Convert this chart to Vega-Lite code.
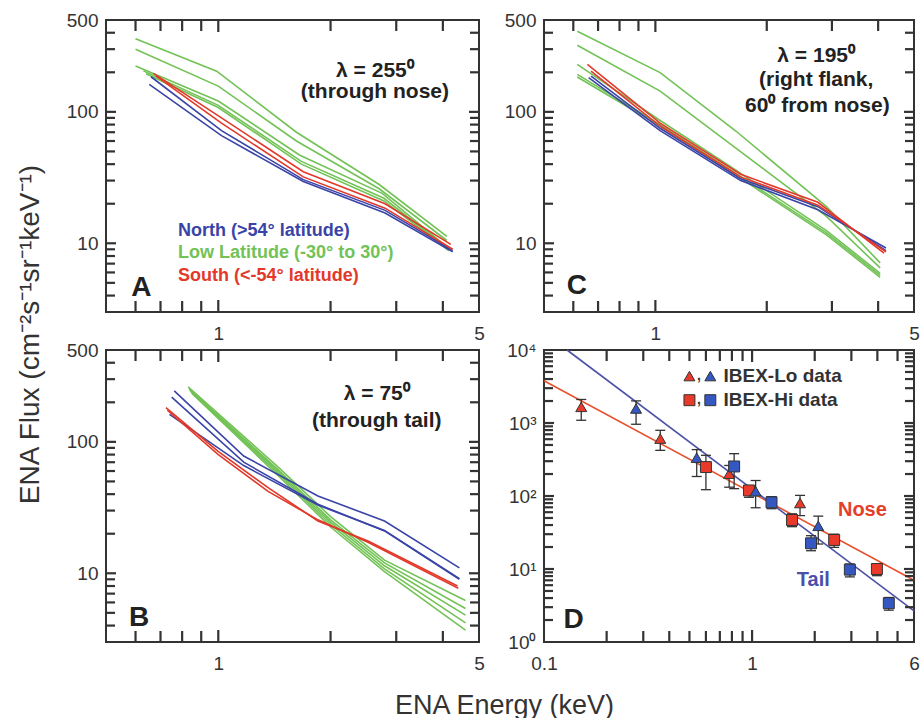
{
  "$schema": "https://vega.github.io/schema/vega-lite/v6.json",
  "background": "white",
  "padding": {"left": 15, "top": 10, "right": 0, "bottom": 0},
  "bounds": "flush",
  "columns": 2,
  "spacing": {"row": 38, "column": 65},
  "resolve": {"scale": {"color": "independent", "fill": "independent", "shape": "independent"}},
  "config": {
    "font": "Liberation Sans",
    "view": {"stroke": "#333", "strokeWidth": 2},
    "axis": {"domain": false, "grid": false, "ticks": false, "labelFlush": false, "labelOverlap": false, "labelFont": "Liberation Sans", "labelFontSize": 19, "labelColor": "#333", "titleFont": "Liberation Sans", "titleFontWeight": "normal", "titleColor": "#333"},
    "tick": {"thickness": 2.2, "color": "#333", "opacity": 1},
    "text": {"font": "Liberation Sans"}
  },
  "datasets": {
    "lines": [
      {"p":"A","id":"A-G1","g":"Low","e":0.60,"f":360},{"p":"A","id":"A-G1","g":"Low","e":0.99,"f":204},{"p":"A","id":"A-G1","g":"Low","e":1.62,"f":70},{"p":"A","id":"A-G1","g":"Low","e":2.7,"f":28},{"p":"A","id":"A-G1","g":"Low","e":4.1,"f":11.3},
      {"p":"A","id":"A-G2","g":"Low","e":0.60,"f":299},{"p":"A","id":"A-G2","g":"Low","e":1.00,"f":157},{"p":"A","id":"A-G2","g":"Low","e":1.62,"f":60},{"p":"A","id":"A-G2","g":"Low","e":2.7,"f":26},{"p":"A","id":"A-G2","g":"Low","e":4.1,"f":10.5},
      {"p":"A","id":"A-G3","g":"Low","e":0.60,"f":223},{"p":"A","id":"A-G3","g":"Low","e":1.00,"f":121},{"p":"A","id":"A-G3","g":"Low","e":1.65,"f":47},{"p":"A","id":"A-G3","g":"Low","e":2.75,"f":24},{"p":"A","id":"A-G3","g":"Low","e":4.1,"f":9.4},
      {"p":"A","id":"A-G4","g":"Low","e":0.63,"f":205},{"p":"A","id":"A-G4","g":"Low","e":1.00,"f":112},{"p":"A","id":"A-G4","g":"Low","e":1.67,"f":42},{"p":"A","id":"A-G4","g":"Low","e":2.78,"f":22},{"p":"A","id":"A-G4","g":"Low","e":4.15,"f":9.0},
      {"p":"A","id":"A-G5","g":"Low","e":0.64,"f":195},{"p":"A","id":"A-G5","g":"Low","e":1.00,"f":108},{"p":"A","id":"A-G5","g":"Low","e":1.67,"f":40},{"p":"A","id":"A-G5","g":"Low","e":2.78,"f":21},{"p":"A","id":"A-G5","g":"Low","e":4.15,"f":8.8},
      {"p":"A","id":"A-N1","g":"North","e":0.653,"f":162},{"p":"A","id":"A-N1","g":"North","e":1.02,"f":66},{"p":"A","id":"A-N1","g":"North","e":1.69,"f":29.5},{"p":"A","id":"A-N1","g":"North","e":2.8,"f":17},{"p":"A","id":"A-N1","g":"North","e":4.25,"f":8.6},
      {"p":"A","id":"A-N2","g":"North","e":0.66,"f":185},{"p":"A","id":"A-N2","g":"North","e":1.02,"f":72},{"p":"A","id":"A-N2","g":"North","e":1.69,"f":30.5},{"p":"A","id":"A-N2","g":"North","e":2.8,"f":17.8},{"p":"A","id":"A-N2","g":"North","e":4.25,"f":8.8},
      {"p":"A","id":"A-S1","g":"South","e":0.67,"f":196},{"p":"A","id":"A-S1","g":"South","e":1.02,"f":90},{"p":"A","id":"A-S1","g":"South","e":1.69,"f":35},{"p":"A","id":"A-S1","g":"South","e":2.8,"f":20},{"p":"A","id":"A-S1","g":"South","e":4.2,"f":9.8},
      {"p":"A","id":"A-S2","g":"South","e":0.68,"f":188},{"p":"A","id":"A-S2","g":"South","e":1.02,"f":82},{"p":"A","id":"A-S2","g":"South","e":1.69,"f":32},{"p":"A","id":"A-S2","g":"South","e":2.8,"f":18.5},{"p":"A","id":"A-S2","g":"South","e":4.25,"f":9.0},

      {"p":"C","id":"C-G1","g":"Low","e":0.615,"f":410},{"p":"C","id":"C-G1","g":"Low","e":1.03,"f":199},{"p":"C","id":"C-G1","g":"Low","e":1.65,"f":71.5},{"p":"C","id":"C-G1","g":"Low","e":2.9,"f":19},{"p":"C","id":"C-G1","g":"Low","e":4.05,"f":7.1},
      {"p":"C","id":"C-G2","g":"Low","e":0.615,"f":321},{"p":"C","id":"C-G2","g":"Low","e":1.03,"f":144},{"p":"C","id":"C-G2","g":"Low","e":1.65,"f":53},{"p":"C","id":"C-G2","g":"Low","e":2.9,"f":16},{"p":"C","id":"C-G2","g":"Low","e":4.05,"f":6.5},
      {"p":"C","id":"C-G3","g":"Low","e":0.615,"f":230},{"p":"C","id":"C-G3","g":"Low","e":1.03,"f":86},{"p":"C","id":"C-G3","g":"Low","e":1.65,"f":36},{"p":"C","id":"C-G3","g":"Low","e":2.9,"f":12.5},{"p":"C","id":"C-G3","g":"Low","e":4.05,"f":5.9},
      {"p":"C","id":"C-G4","g":"Low","e":0.615,"f":193},{"p":"C","id":"C-G4","g":"Low","e":1.03,"f":80},{"p":"C","id":"C-G4","g":"Low","e":1.65,"f":34},{"p":"C","id":"C-G4","g":"Low","e":2.9,"f":12},{"p":"C","id":"C-G4","g":"Low","e":4.05,"f":5.7},
      {"p":"C","id":"C-G5","g":"Low","e":0.615,"f":184},{"p":"C","id":"C-G5","g":"Low","e":1.03,"f":78},{"p":"C","id":"C-G5","g":"Low","e":1.65,"f":33},{"p":"C","id":"C-G5","g":"Low","e":2.9,"f":11.6},{"p":"C","id":"C-G5","g":"Low","e":4.05,"f":5.5},
      {"p":"C","id":"C-N1","g":"North","e":0.66,"f":182},{"p":"C","id":"C-N1","g":"North","e":1.03,"f":72},{"p":"C","id":"C-N1","g":"North","e":1.7,"f":30},{"p":"C","id":"C-N1","g":"North","e":2.75,"f":18},{"p":"C","id":"C-N1","g":"North","e":4.2,"f":9.2},
      {"p":"C","id":"C-N2","g":"North","e":0.67,"f":187},{"p":"C","id":"C-N2","g":"North","e":1.03,"f":75},{"p":"C","id":"C-N2","g":"North","e":1.7,"f":31},{"p":"C","id":"C-N2","g":"North","e":2.75,"f":19},{"p":"C","id":"C-N2","g":"North","e":4.2,"f":8.8},
      {"p":"C","id":"C-S1","g":"South","e":0.655,"f":230},{"p":"C","id":"C-S1","g":"South","e":1.03,"f":82},{"p":"C","id":"C-S1","g":"South","e":1.7,"f":33.5},{"p":"C","id":"C-S1","g":"South","e":2.75,"f":20.5},{"p":"C","id":"C-S1","g":"South","e":4.15,"f":8.4},
      {"p":"C","id":"C-S2","g":"South","e":0.67,"f":204},{"p":"C","id":"C-S2","g":"South","e":1.03,"f":78},{"p":"C","id":"C-S2","g":"South","e":1.7,"f":32},{"p":"C","id":"C-S2","g":"South","e":2.75,"f":19.5},{"p":"C","id":"C-S2","g":"South","e":4.2,"f":8.6},

      {"p":"B","id":"B-G1","g":"Low","e":0.83,"f":262},{"p":"B","id":"B-G1","g":"Low","e":1.45,"f":64},{"p":"B","id":"B-G1","g":"Low","e":2.0,"f":27},{"p":"B","id":"B-G1","g":"Low","e":2.79,"f":12.6},{"p":"B","id":"B-G1","g":"Low","e":4.6,"f":6.2},
      {"p":"B","id":"B-G2","g":"Low","e":0.835,"f":252},{"p":"B","id":"B-G2","g":"Low","e":1.45,"f":61},{"p":"B","id":"B-G2","g":"Low","e":2.0,"f":25.5},{"p":"B","id":"B-G2","g":"Low","e":2.79,"f":12.0},{"p":"B","id":"B-G2","g":"Low","e":4.6,"f":5.4},
      {"p":"B","id":"B-G3","g":"Low","e":0.84,"f":246},{"p":"B","id":"B-G3","g":"Low","e":1.45,"f":59},{"p":"B","id":"B-G3","g":"Low","e":2.0,"f":24.5},{"p":"B","id":"B-G3","g":"Low","e":2.79,"f":11.4},{"p":"B","id":"B-G3","g":"Low","e":4.6,"f":4.8},
      {"p":"B","id":"B-G4","g":"Low","e":0.845,"f":240},{"p":"B","id":"B-G4","g":"Low","e":1.45,"f":57},{"p":"B","id":"B-G4","g":"Low","e":2.0,"f":23.5},{"p":"B","id":"B-G4","g":"Low","e":2.79,"f":10.8},{"p":"B","id":"B-G4","g":"Low","e":4.6,"f":4.2},
      {"p":"B","id":"B-G5","g":"Low","e":0.85,"f":234},{"p":"B","id":"B-G5","g":"Low","e":1.45,"f":55},{"p":"B","id":"B-G5","g":"Low","e":2.0,"f":22.5},{"p":"B","id":"B-G5","g":"Low","e":2.79,"f":10.3},{"p":"B","id":"B-G5","g":"Low","e":4.6,"f":3.7},
      {"p":"B","id":"B-N1","g":"North","e":0.762,"f":244},{"p":"B","id":"B-N1","g":"North","e":1.17,"f":78},{"p":"B","id":"B-N1","g":"North","e":1.85,"f":38.7},{"p":"B","id":"B-N1","g":"North","e":2.79,"f":25},{"p":"B","id":"B-N1","g":"North","e":4.43,"f":11.0},
      {"p":"B","id":"B-N2","g":"North","e":0.75,"f":219},{"p":"B","id":"B-N2","g":"North","e":1.17,"f":70},{"p":"B","id":"B-N2","g":"North","e":1.85,"f":33.5},{"p":"B","id":"B-N2","g":"North","e":2.79,"f":21},{"p":"B","id":"B-N2","g":"North","e":4.43,"f":9.0},
      {"p":"B","id":"B-N3","g":"North","e":0.74,"f":162},{"p":"B","id":"B-N3","g":"North","e":1.17,"f":66},{"p":"B","id":"B-N3","g":"North","e":1.85,"f":33},{"p":"B","id":"B-N3","g":"North","e":2.79,"f":21.2},{"p":"B","id":"B-N3","g":"North","e":4.43,"f":9.1},
      {"p":"B","id":"B-S1","g":"South","e":0.724,"f":182},{"p":"B","id":"B-S1","g":"South","e":0.997,"f":85},{"p":"B","id":"B-S1","g":"South","e":1.36,"f":44.8},{"p":"B","id":"B-S1","g":"South","e":1.85,"f":25},{"p":"B","id":"B-S1","g":"South","e":2.52,"f":17.6},{"p":"B","id":"B-S1","g":"South","e":4.38,"f":8.0},
      {"p":"B","id":"B-S2","g":"South","e":0.73,"f":174},{"p":"B","id":"B-S2","g":"South","e":1.0,"f":80},{"p":"B","id":"B-S2","g":"South","e":1.36,"f":42},{"p":"B","id":"B-S2","g":"South","e":1.85,"f":25.5},{"p":"B","id":"B-S2","g":"South","e":2.52,"f":17.2},{"p":"B","id":"B-S2","g":"South","e":4.4,"f":7.7}
    ],
    "notes": [
      {"p":"A","k":"head","t":"λ = 255⁰","e":2.63,"f":204},
      {"p":"A","k":"head","t":"(through nose)","e":2.63,"f":141},
      {"p":"A","k":"panel","t":"A","e":0.584,"f":3.97},
      {"p":"A","k":"North","t":"North (>54° latitude)","e":0.78,"f":12.4},
      {"p":"A","k":"Low","t":"Low Latitude (-30° to 30°)","e":0.78,"f":8.43},
      {"p":"A","k":"South","t":"South (<-54° latitude)","e":0.78,"f":5.63},
      {"p":"C","k":"head","t":"λ = 195⁰","e":2.72,"f":266},
      {"p":"C","k":"head","t":"(right flank,","e":2.72,"f":175},
      {"p":"C","k":"head","t":"60⁰ from nose)","e":2.74,"f":111},
      {"p":"C","k":"panel","t":"C","e":0.576,"f":4.11},
      {"p":"B","k":"head","t":"λ = 75⁰","e":2.66,"f":231},
      {"p":"B","k":"head","t":"(through tail)","e":2.66,"f":144},
      {"p":"B","k":"panel","t":"B","e":0.576,"f":3.97},
      {"p":"D","k":"panel","t":"D","e":0.124,"f":1.56},
      {"p":"D","k":"Nose","t":"Nose","e":3.39,"f":65},
      {"p":"D","k":"Tail","t":"Tail","e":1.97,"f":7.1},
      {"p":"D","k":"leg","t":"IBEX-Lo data","e":0.729,"f":4390},
      {"p":"D","k":"leg","t":"IBEX-Hi data","e":0.729,"f":2054},
      {"p":"D","k":"comma","t":",","e":0.556,"f":4390},
      {"p":"D","k":"comma","t":",","e":0.556,"f":2054}
    ],
    "tkabc": [
      {"ax":"x","v":0.6,"m":"xmin"},{"ax":"x","v":0.7,"m":"xmin"},{"ax":"x","v":0.8,"m":"xmin"},{"ax":"x","v":0.9,"m":"xmin"},{"ax":"x","v":1,"m":"xmaj"},{"ax":"x","v":2,"m":"xmin"},{"ax":"x","v":3,"m":"xmin"},{"ax":"x","v":4,"m":"xmin"},
      {"ax":"y","v":4,"m":"ymin"},{"ax":"y","v":5,"m":"ymin"},{"ax":"y","v":6,"m":"ymin"},{"ax":"y","v":7,"m":"ymin"},{"ax":"y","v":8,"m":"ymin"},{"ax":"y","v":9,"m":"ymin"},{"ax":"y","v":10,"m":"ymaj"},
      {"ax":"y","v":20,"m":"ymin"},{"ax":"y","v":30,"m":"ymin"},{"ax":"y","v":40,"m":"ymin"},{"ax":"y","v":50,"m":"ymin"},{"ax":"y","v":60,"m":"ymin"},{"ax":"y","v":70,"m":"ymin"},{"ax":"y","v":80,"m":"ymin"},{"ax":"y","v":90,"m":"ymin"},{"ax":"y","v":100,"m":"ymaj"},
      {"ax":"y","v":200,"m":"ymin"},{"ax":"y","v":300,"m":"ymin"},{"ax":"y","v":400,"m":"ymin"}
    ],
    "tkd": [
      {"ax":"x","v":0.2,"m":"xmin"},{"ax":"x","v":0.3,"m":"xmin"},{"ax":"x","v":0.4,"m":"xmin"},{"ax":"x","v":0.5,"m":"xmin"},{"ax":"x","v":0.6,"m":"xmin"},{"ax":"x","v":0.7,"m":"xmin"},{"ax":"x","v":0.8,"m":"xmin"},{"ax":"x","v":0.9,"m":"xmin"},{"ax":"x","v":1,"m":"xmaj"},{"ax":"x","v":2,"m":"xmin"},{"ax":"x","v":3,"m":"xmin"},{"ax":"x","v":4,"m":"xmin"},{"ax":"x","v":5,"m":"xmin"},
      {"ax":"y","v":2,"m":"ymin"},{"ax":"y","v":3,"m":"ymin"},{"ax":"y","v":4,"m":"ymin"},{"ax":"y","v":5,"m":"ymin"},{"ax":"y","v":6,"m":"ymin"},{"ax":"y","v":7,"m":"ymin"},{"ax":"y","v":8,"m":"ymin"},{"ax":"y","v":9,"m":"ymin"},{"ax":"y","v":10,"m":"ymaj"},
      {"ax":"y","v":20,"m":"ymin"},{"ax":"y","v":30,"m":"ymin"},{"ax":"y","v":40,"m":"ymin"},{"ax":"y","v":50,"m":"ymin"},{"ax":"y","v":60,"m":"ymin"},{"ax":"y","v":70,"m":"ymin"},{"ax":"y","v":80,"m":"ymin"},{"ax":"y","v":90,"m":"ymin"},{"ax":"y","v":100,"m":"ymaj"},
      {"ax":"y","v":200,"m":"ymin"},{"ax":"y","v":300,"m":"ymin"},{"ax":"y","v":400,"m":"ymin"},{"ax":"y","v":500,"m":"ymin"},{"ax":"y","v":600,"m":"ymin"},{"ax":"y","v":700,"m":"ymin"},{"ax":"y","v":800,"m":"ymin"},{"ax":"y","v":900,"m":"ymin"},{"ax":"y","v":1000,"m":"ymaj"},
      {"ax":"y","v":2000,"m":"ymin"},{"ax":"y","v":3000,"m":"ymin"},{"ax":"y","v":4000,"m":"ymin"},{"ax":"y","v":5000,"m":"ymin"},{"ax":"y","v":6000,"m":"ymin"},{"ax":"y","v":7000,"m":"ymin"},{"ax":"y","v":8000,"m":"ymin"},{"ax":"y","v":9000,"m":"ymin"}
    ],
    "ibex": [
      {"inst":"Lo","reg":"Nose","e":0.151,"f":1663,"lo":1090,"hi":2100},
      {"inst":"Lo","reg":"Tail","e":0.277,"f":1578,"lo":961,"hi":2009},
      {"inst":"Lo","reg":"Nose","e":0.362,"f":611,"lo":422,"hi":794},
      {"inst":"Lo","reg":"Tail","e":0.542,"f":335,"lo":185,"hi":432},
      {"inst":"Hi","reg":"Nose","e":0.600,"f":249,"lo":122,"hi":361},
      {"inst":"Lo","reg":"Nose","e":0.776,"f":202,"lo":132,"hi":262},
      {"inst":"Hi","reg":"Tail","e":0.820,"f":254,"lo":126,"hi":380},
      {"inst":"Hi","reg":"Nose","e":0.966,"f":119,"lo":96,"hi":139},
      {"inst":"Lo","reg":"Tail","e":1.04,"f":116,"lo":69,"hi":163},
      {"inst":"Hi","reg":"Tail","e":1.24,"f":82,"lo":67,"hi":98},
      {"inst":"Hi","reg":"Nose","e":1.556,"f":47,"lo":38,"hi":57},
      {"inst":"Lo","reg":"Nose","e":1.70,"f":80,"lo":54,"hi":102},
      {"inst":"Lo","reg":"Tail","e":2.08,"f":39,"lo":22,"hi":53},
      {"inst":"Hi","reg":"Tail","e":1.92,"f":22.5,"lo":17.8,"hi":28.6},
      {"inst":"Hi","reg":"Nose","e":2.48,"f":25,"lo":19.8,"hi":30},
      {"inst":"Hi","reg":"Tail","e":2.95,"f":9.8,"lo":7.8,"hi":11.7},
      {"inst":"Hi","reg":"Nose","e":3.98,"f":10,"lo":8.1,"hi":11.7},
      {"inst":"Hi","reg":"Tail","e":4.54,"f":3.4,"lo":2.73,"hi":4.07}
    ],
    "dleg": [
      {"inst":"Lo","reg":"Nose","e":0.50,"f":4390},
      {"inst":"Lo","reg":"Tail","e":0.630,"f":4390},
      {"inst":"Hi","reg":"Nose","e":0.50,"f":2054},
      {"inst":"Hi","reg":"Tail","e":0.630,"f":2054}
    ],
    "fits": [
      {"reg":"Nose","e":0.1,"f":3800},{"reg":"Nose","e":6,"f":7.0},
      {"reg":"Tail","e":0.129,"f":10000},{"reg":"Tail","e":6,"f":2.67}
    ]
  },
  "concat": [
    {
      "width": 373, "height": 292,
      "resolve": {"axis": {"x": "independent", "y": "independent"}},
      "layer": [
        {
          "data": {"name": "lines"},
          "transform": [{"filter": "datum.p == 'A'"}],
          "mark": {"type": "line", "strokeWidth": 1.6},
          "encoding": {
            "x": {"field": "e", "type": "quantitative", "scale": {"type": "log", "domain": [0.5, 5], "nice": false},
              "axis": {"orient": "bottom", "values": [1, 5], "labelExpr": "'' + datum.value", "labelPadding": 12, "title": null}},
            "y": {"field": "f", "type": "quantitative", "scale": {"type": "log", "domain": [3, 500], "nice": false},
              "axis": {"orient": "left", "values": [10, 100, 500], "labelExpr": "'' + datum.value", "labelPadding": 8,
                "title": "ENA Flux (cm⁻²s⁻¹sr⁻¹keV⁻¹)", "titleFontSize": 28, "titleX": -68, "titleY": 314, "titleAngle": -90, "titleBaseline": "alphabetic", "titleAlign": "center"}},
            "color": {"field": "g", "type": "nominal", "scale": {"domain": ["North", "Low", "South"], "range": ["#3a44a6", "#72c256", "#e2392a"]}, "legend": null},
            "detail": {"field": "id", "type": "nominal"}
          }
        },
        {
          "data": {"name": "tkabc"}, "transform": [{"filter": "datum.ax == 'x'"}],
          "mark": {"type": "tick", "orient": "vertical", "clip": true},
          "encoding": {
            "x": {"field": "v", "type": "quantitative", "scale": {"type": "log", "domain": [0.5, 5], "nice": false}, "axis": null},
            "y": {"datum": 3, "type": "quantitative", "scale": {"type": "log", "domain": [3, 500], "nice": false}, "axis": null},
            "size": {"field": "m", "type": "ordinal", "scale": {"domain": ["xmaj", "xmin", "ymaj", "ymin"], "range": [24, 18, 20, 10]}, "legend": null}
          }
        },
        {
          "data": {"name": "tkabc"}, "transform": [{"filter": "datum.ax == 'x'"}],
          "mark": {"type": "tick", "orient": "vertical", "clip": true},
          "encoding": {
            "x": {"field": "v", "type": "quantitative", "scale": {"type": "log", "domain": [0.5, 5], "nice": false}, "axis": null},
            "y": {"datum": 500, "type": "quantitative", "scale": {"type": "log", "domain": [3, 500], "nice": false}, "axis": null},
            "size": {"field": "m", "type": "ordinal", "scale": {"domain": ["xmaj", "xmin", "ymaj", "ymin"], "range": [24, 18, 20, 10]}, "legend": null}
          }
        },
        {
          "data": {"name": "tkabc"}, "transform": [{"filter": "datum.ax == 'y'"}],
          "mark": {"type": "tick", "orient": "horizontal", "clip": true},
          "encoding": {
            "x": {"datum": 0.5, "type": "quantitative", "scale": {"type": "log", "domain": [0.5, 5], "nice": false}, "axis": null},
            "y": {"field": "v", "type": "quantitative", "scale": {"type": "log", "domain": [3, 500], "nice": false}, "axis": null},
            "size": {"field": "m", "type": "ordinal", "scale": {"domain": ["xmaj", "xmin", "ymaj", "ymin"], "range": [24, 18, 20, 10]}, "legend": null}
          }
        },
        {
          "data": {"name": "tkabc"}, "transform": [{"filter": "datum.ax == 'y'"}],
          "mark": {"type": "tick", "orient": "horizontal", "clip": true},
          "encoding": {
            "x": {"datum": 5, "type": "quantitative", "scale": {"type": "log", "domain": [0.5, 5], "nice": false}, "axis": null},
            "y": {"field": "v", "type": "quantitative", "scale": {"type": "log", "domain": [3, 500], "nice": false}, "axis": null},
            "size": {"field": "m", "type": "ordinal", "scale": {"domain": ["xmaj", "xmin", "ymaj", "ymin"], "range": [24, 18, 20, 10]}, "legend": null}
          }
        },
        {
          "data": {"name": "notes"},
          "transform": [{"filter": "datum.p == 'A' && datum.k == 'head'"}],
          "mark": {"type": "text", "fontSize": 21, "fontWeight": "bold", "color": "#222", "align": "center", "baseline": "middle"},
          "encoding": {
            "x": {"field": "e", "type": "quantitative", "scale": {"type": "log", "domain": [0.5, 5], "nice": false}, "axis": null},
            "y": {"field": "f", "type": "quantitative", "scale": {"type": "log", "domain": [3, 500], "nice": false}, "axis": null},
            "text": {"field": "t"}
          }
        },
        {
          "data": {"name": "notes"},
          "transform": [{"filter": "datum.p == 'A' && datum.k == 'panel'"}],
          "mark": {"type": "text", "fontSize": 28, "fontWeight": "bold", "color": "#222", "align": "left", "baseline": "alphabetic"},
          "encoding": {
            "x": {"field": "e", "type": "quantitative", "scale": {"type": "log", "domain": [0.5, 5], "nice": false}, "axis": null},
            "y": {"field": "f", "type": "quantitative", "scale": {"type": "log", "domain": [3, 500], "nice": false}, "axis": null},
            "text": {"field": "t"}
          }
        },
        {
          "data": {"name": "notes"},
          "transform": [{"filter": "datum.p == 'A' && (datum.k == 'North' || datum.k == 'Low' || datum.k == 'South')"}],
          "mark": {"type": "text", "fontSize": 18, "fontWeight": "bold", "align": "left", "baseline": "middle"},
          "encoding": {
            "x": {"field": "e", "type": "quantitative", "scale": {"type": "log", "domain": [0.5, 5], "nice": false}, "axis": null},
            "y": {"field": "f", "type": "quantitative", "scale": {"type": "log", "domain": [3, 500], "nice": false}, "axis": null},
            "color": {"field": "k", "type": "nominal", "scale": {"domain": ["North", "Low", "South"], "range": ["#3a44a6", "#72c256", "#e2392a"]}, "legend": null},
            "text": {"field": "t"}
          }
        }
      ]
    },
    {
      "width": 370, "height": 292,
      "resolve": {"axis": {"x": "independent", "y": "independent"}},
      "layer": [
        {
          "data": {"name": "lines"},
          "transform": [{"filter": "datum.p == 'C'"}],
          "mark": {"type": "line", "strokeWidth": 1.6},
          "encoding": {
            "x": {"field": "e", "type": "quantitative", "scale": {"type": "log", "domain": [0.5, 5], "nice": false},
              "axis": {"orient": "bottom", "values": [1, 5], "labelExpr": "'' + datum.value", "labelPadding": 12, "title": null}},
            "y": {"field": "f", "type": "quantitative", "scale": {"type": "log", "domain": [3, 500], "nice": false},
              "axis": {"orient": "left", "values": [10, 100, 500], "labelExpr": "'' + datum.value", "labelPadding": 8, "title": null}},
            "color": {"field": "g", "type": "nominal", "scale": {"domain": ["North", "Low", "South"], "range": ["#3a44a6", "#72c256", "#e2392a"]}, "legend": null},
            "detail": {"field": "id", "type": "nominal"}
          }
        },
        {
          "data": {"name": "tkabc"}, "transform": [{"filter": "datum.ax == 'x'"}],
          "mark": {"type": "tick", "orient": "vertical", "clip": true},
          "encoding": {
            "x": {"field": "v", "type": "quantitative", "scale": {"type": "log", "domain": [0.5, 5], "nice": false}, "axis": null},
            "y": {"datum": 3, "type": "quantitative", "scale": {"type": "log", "domain": [3, 500], "nice": false}, "axis": null},
            "size": {"field": "m", "type": "ordinal", "scale": {"domain": ["xmaj", "xmin", "ymaj", "ymin"], "range": [24, 18, 20, 10]}, "legend": null}
          }
        },
        {
          "data": {"name": "tkabc"}, "transform": [{"filter": "datum.ax == 'x'"}],
          "mark": {"type": "tick", "orient": "vertical", "clip": true},
          "encoding": {
            "x": {"field": "v", "type": "quantitative", "scale": {"type": "log", "domain": [0.5, 5], "nice": false}, "axis": null},
            "y": {"datum": 500, "type": "quantitative", "scale": {"type": "log", "domain": [3, 500], "nice": false}, "axis": null},
            "size": {"field": "m", "type": "ordinal", "scale": {"domain": ["xmaj", "xmin", "ymaj", "ymin"], "range": [24, 18, 20, 10]}, "legend": null}
          }
        },
        {
          "data": {"name": "tkabc"}, "transform": [{"filter": "datum.ax == 'y'"}],
          "mark": {"type": "tick", "orient": "horizontal", "clip": true},
          "encoding": {
            "x": {"datum": 0.5, "type": "quantitative", "scale": {"type": "log", "domain": [0.5, 5], "nice": false}, "axis": null},
            "y": {"field": "v", "type": "quantitative", "scale": {"type": "log", "domain": [3, 500], "nice": false}, "axis": null},
            "size": {"field": "m", "type": "ordinal", "scale": {"domain": ["xmaj", "xmin", "ymaj", "ymin"], "range": [24, 18, 20, 10]}, "legend": null}
          }
        },
        {
          "data": {"name": "tkabc"}, "transform": [{"filter": "datum.ax == 'y'"}],
          "mark": {"type": "tick", "orient": "horizontal", "clip": true},
          "encoding": {
            "x": {"datum": 5, "type": "quantitative", "scale": {"type": "log", "domain": [0.5, 5], "nice": false}, "axis": null},
            "y": {"field": "v", "type": "quantitative", "scale": {"type": "log", "domain": [3, 500], "nice": false}, "axis": null},
            "size": {"field": "m", "type": "ordinal", "scale": {"domain": ["xmaj", "xmin", "ymaj", "ymin"], "range": [24, 18, 20, 10]}, "legend": null}
          }
        },
        {
          "data": {"name": "notes"},
          "transform": [{"filter": "datum.p == 'C' && datum.k == 'head'"}],
          "mark": {"type": "text", "fontSize": 21, "fontWeight": "bold", "color": "#222", "align": "center", "baseline": "middle"},
          "encoding": {
            "x": {"field": "e", "type": "quantitative", "scale": {"type": "log", "domain": [0.5, 5], "nice": false}, "axis": null},
            "y": {"field": "f", "type": "quantitative", "scale": {"type": "log", "domain": [3, 500], "nice": false}, "axis": null},
            "text": {"field": "t"}
          }
        },
        {
          "data": {"name": "notes"},
          "transform": [{"filter": "datum.p == 'C' && datum.k == 'panel'"}],
          "mark": {"type": "text", "fontSize": 28, "fontWeight": "bold", "color": "#222", "align": "left", "baseline": "alphabetic"},
          "encoding": {
            "x": {"field": "e", "type": "quantitative", "scale": {"type": "log", "domain": [0.5, 5], "nice": false}, "axis": null},
            "y": {"field": "f", "type": "quantitative", "scale": {"type": "log", "domain": [3, 500], "nice": false}, "axis": null},
            "text": {"field": "t"}
          }
        }
      ]
    },
    {
      "width": 373, "height": 292,
      "resolve": {"axis": {"x": "independent", "y": "independent"}},
      "layer": [
        {
          "data": {"name": "lines"},
          "transform": [{"filter": "datum.p == 'B'"}],
          "mark": {"type": "line", "strokeWidth": 1.6},
          "encoding": {
            "x": {"field": "e", "type": "quantitative", "scale": {"type": "log", "domain": [0.5, 5], "nice": false},
              "axis": {"orient": "bottom", "values": [1, 5], "labelExpr": "'' + datum.value", "labelPadding": 12,
                "title": "ENA Energy (keV)", "titleFontSize": 27, "titleX": 398, "titleY": 71, "titleBaseline": "alphabetic", "titleAlign": "center"}},
            "y": {"field": "f", "type": "quantitative", "scale": {"type": "log", "domain": [3, 500], "nice": false},
              "axis": {"orient": "left", "values": [10, 100, 500], "labelExpr": "'' + datum.value", "labelPadding": 8, "title": null}},
            "color": {"field": "g", "type": "nominal", "scale": {"domain": ["North", "Low", "South"], "range": ["#3a44a6", "#72c256", "#e2392a"]}, "legend": null},
            "detail": {"field": "id", "type": "nominal"}
          }
        },
        {
          "data": {"name": "tkabc"}, "transform": [{"filter": "datum.ax == 'x'"}],
          "mark": {"type": "tick", "orient": "vertical", "clip": true},
          "encoding": {
            "x": {"field": "v", "type": "quantitative", "scale": {"type": "log", "domain": [0.5, 5], "nice": false}, "axis": null},
            "y": {"datum": 3, "type": "quantitative", "scale": {"type": "log", "domain": [3, 500], "nice": false}, "axis": null},
            "size": {"field": "m", "type": "ordinal", "scale": {"domain": ["xmaj", "xmin", "ymaj", "ymin"], "range": [24, 18, 20, 10]}, "legend": null}
          }
        },
        {
          "data": {"name": "tkabc"}, "transform": [{"filter": "datum.ax == 'x'"}],
          "mark": {"type": "tick", "orient": "vertical", "clip": true},
          "encoding": {
            "x": {"field": "v", "type": "quantitative", "scale": {"type": "log", "domain": [0.5, 5], "nice": false}, "axis": null},
            "y": {"datum": 500, "type": "quantitative", "scale": {"type": "log", "domain": [3, 500], "nice": false}, "axis": null},
            "size": {"field": "m", "type": "ordinal", "scale": {"domain": ["xmaj", "xmin", "ymaj", "ymin"], "range": [24, 18, 20, 10]}, "legend": null}
          }
        },
        {
          "data": {"name": "tkabc"}, "transform": [{"filter": "datum.ax == 'y'"}],
          "mark": {"type": "tick", "orient": "horizontal", "clip": true},
          "encoding": {
            "x": {"datum": 0.5, "type": "quantitative", "scale": {"type": "log", "domain": [0.5, 5], "nice": false}, "axis": null},
            "y": {"field": "v", "type": "quantitative", "scale": {"type": "log", "domain": [3, 500], "nice": false}, "axis": null},
            "size": {"field": "m", "type": "ordinal", "scale": {"domain": ["xmaj", "xmin", "ymaj", "ymin"], "range": [24, 18, 20, 10]}, "legend": null}
          }
        },
        {
          "data": {"name": "tkabc"}, "transform": [{"filter": "datum.ax == 'y'"}],
          "mark": {"type": "tick", "orient": "horizontal", "clip": true},
          "encoding": {
            "x": {"datum": 5, "type": "quantitative", "scale": {"type": "log", "domain": [0.5, 5], "nice": false}, "axis": null},
            "y": {"field": "v", "type": "quantitative", "scale": {"type": "log", "domain": [3, 500], "nice": false}, "axis": null},
            "size": {"field": "m", "type": "ordinal", "scale": {"domain": ["xmaj", "xmin", "ymaj", "ymin"], "range": [24, 18, 20, 10]}, "legend": null}
          }
        },
        {
          "data": {"name": "notes"},
          "transform": [{"filter": "datum.p == 'B' && datum.k == 'head'"}],
          "mark": {"type": "text", "fontSize": 21, "fontWeight": "bold", "color": "#222", "align": "center", "baseline": "middle"},
          "encoding": {
            "x": {"field": "e", "type": "quantitative", "scale": {"type": "log", "domain": [0.5, 5], "nice": false}, "axis": null},
            "y": {"field": "f", "type": "quantitative", "scale": {"type": "log", "domain": [3, 500], "nice": false}, "axis": null},
            "text": {"field": "t"}
          }
        },
        {
          "data": {"name": "notes"},
          "transform": [{"filter": "datum.p == 'B' && datum.k == 'panel'"}],
          "mark": {"type": "text", "fontSize": 28, "fontWeight": "bold", "color": "#222", "align": "left", "baseline": "alphabetic"},
          "encoding": {
            "x": {"field": "e", "type": "quantitative", "scale": {"type": "log", "domain": [0.5, 5], "nice": false}, "axis": null},
            "y": {"field": "f", "type": "quantitative", "scale": {"type": "log", "domain": [3, 500], "nice": false}, "axis": null},
            "text": {"field": "t"}
          }
        }
      ]
    },
    {
      "width": 370, "height": 292,
      "resolve": {"axis": {"x": "independent", "y": "independent"}},
      "layer": [
        {
          "data": {"name": "fits"},
          "mark": {"type": "line", "strokeWidth": 1.6},
          "encoding": {
            "x": {"field": "e", "type": "quantitative", "scale": {"type": "log", "domain": [0.1, 6], "nice": false},
              "axis": {"orient": "bottom", "values": [0.1, 1, 6], "labelExpr": "'' + datum.value", "labelPadding": 12, "title": null}},
            "y": {"field": "f", "type": "quantitative", "scale": {"type": "log", "domain": [1, 10000], "nice": false},
              "axis": {"orient": "left", "values": [1, 10, 100, 1000, 10000], "labelExpr": "datum.value == 1 ? '10⁰' : datum.value == 10 ? '10¹' : datum.value == 100 ? '10²' : datum.value == 1000 ? '10³' : '10⁴'", "labelPadding": 8, "title": null}},
            "color": {"field": "reg", "type": "nominal", "scale": {"domain": ["Nose", "Tail"], "range": ["#e5522f", "#4d52a8"]}, "legend": null}
          }
        },
        {
          "data": {"name": "tkd"}, "transform": [{"filter": "datum.ax == 'x'"}],
          "mark": {"type": "tick", "orient": "vertical", "clip": true},
          "encoding": {
            "x": {"field": "v", "type": "quantitative", "scale": {"type": "log", "domain": [0.1, 6], "nice": false}, "axis": null},
            "y": {"datum": 1, "type": "quantitative", "scale": {"type": "log", "domain": [1, 10000], "nice": false}, "axis": null},
            "size": {"field": "m", "type": "ordinal", "scale": {"domain": ["xmaj", "xmin", "ymaj", "ymin"], "range": [24, 18, 20, 10]}, "legend": null}
          }
        },
        {
          "data": {"name": "tkd"}, "transform": [{"filter": "datum.ax == 'x'"}],
          "mark": {"type": "tick", "orient": "vertical", "clip": true},
          "encoding": {
            "x": {"field": "v", "type": "quantitative", "scale": {"type": "log", "domain": [0.1, 6], "nice": false}, "axis": null},
            "y": {"datum": 10000, "type": "quantitative", "scale": {"type": "log", "domain": [1, 10000], "nice": false}, "axis": null},
            "size": {"field": "m", "type": "ordinal", "scale": {"domain": ["xmaj", "xmin", "ymaj", "ymin"], "range": [24, 18, 20, 10]}, "legend": null}
          }
        },
        {
          "data": {"name": "tkd"}, "transform": [{"filter": "datum.ax == 'y'"}],
          "mark": {"type": "tick", "orient": "horizontal", "clip": true},
          "encoding": {
            "x": {"datum": 0.1, "type": "quantitative", "scale": {"type": "log", "domain": [0.1, 6], "nice": false}, "axis": null},
            "y": {"field": "v", "type": "quantitative", "scale": {"type": "log", "domain": [1, 10000], "nice": false}, "axis": null},
            "size": {"field": "m", "type": "ordinal", "scale": {"domain": ["xmaj", "xmin", "ymaj", "ymin"], "range": [24, 18, 20, 10]}, "legend": null}
          }
        },
        {
          "data": {"name": "tkd"}, "transform": [{"filter": "datum.ax == 'y'"}],
          "mark": {"type": "tick", "orient": "horizontal", "clip": true},
          "encoding": {
            "x": {"datum": 6, "type": "quantitative", "scale": {"type": "log", "domain": [0.1, 6], "nice": false}, "axis": null},
            "y": {"field": "v", "type": "quantitative", "scale": {"type": "log", "domain": [1, 10000], "nice": false}, "axis": null},
            "size": {"field": "m", "type": "ordinal", "scale": {"domain": ["xmaj", "xmin", "ymaj", "ymin"], "range": [24, 18, 20, 10]}, "legend": null}
          }
        },
        {
          "data": {"name": "ibex"},
          "mark": {"type": "rule", "color": "#333", "strokeWidth": 1.3},
          "encoding": {
            "x": {"field": "e", "type": "quantitative", "scale": {"type": "log", "domain": [0.1, 6], "nice": false}, "axis": null},
            "y": {"field": "lo", "type": "quantitative", "scale": {"type": "log", "domain": [1, 10000], "nice": false}, "axis": null},
            "y2": {"field": "hi"}
          }
        },
        {
          "data": {"name": "ibex"},
          "mark": {"type": "tick", "orient": "horizontal", "size": 10, "thickness": 1.3, "color": "#333", "opacity": 1},
          "encoding": {
            "x": {"field": "e", "type": "quantitative", "scale": {"type": "log", "domain": [0.1, 6], "nice": false}, "axis": null},
            "y": {"field": "lo", "type": "quantitative", "scale": {"type": "log", "domain": [1, 10000], "nice": false}, "axis": null}
          }
        },
        {
          "data": {"name": "ibex"},
          "mark": {"type": "tick", "orient": "horizontal", "size": 10, "thickness": 1.3, "color": "#333", "opacity": 1},
          "encoding": {
            "x": {"field": "e", "type": "quantitative", "scale": {"type": "log", "domain": [0.1, 6], "nice": false}, "axis": null},
            "y": {"field": "hi", "type": "quantitative", "scale": {"type": "log", "domain": [1, 10000], "nice": false}, "axis": null}
          }
        },
        {
          "data": {"name": "ibex"},
          "mark": {"type": "point", "filled": true, "size": 120, "stroke": "#333", "strokeWidth": 1, "opacity": 1},
          "encoding": {
            "x": {"field": "e", "type": "quantitative", "scale": {"type": "log", "domain": [0.1, 6], "nice": false}, "axis": null},
            "y": {"field": "f", "type": "quantitative", "scale": {"type": "log", "domain": [1, 10000], "nice": false}, "axis": null},
            "shape": {"field": "inst", "type": "nominal", "scale": {"domain": ["Lo", "Hi"], "range": ["triangle-up", "square"]}, "legend": null},
            "fill": {"field": "reg", "type": "nominal", "scale": {"domain": ["Nose", "Tail"], "range": ["#e8392b", "#3457c2"]}, "legend": null}
          }
        },
        {
          "data": {"name": "dleg"},
          "mark": {"type": "point", "filled": true, "size": 120, "stroke": "#333", "strokeWidth": 1, "opacity": 1},
          "encoding": {
            "x": {"field": "e", "type": "quantitative", "scale": {"type": "log", "domain": [0.1, 6], "nice": false}, "axis": null},
            "y": {"field": "f", "type": "quantitative", "scale": {"type": "log", "domain": [1, 10000], "nice": false}, "axis": null},
            "shape": {"field": "inst", "type": "nominal", "scale": {"domain": ["Lo", "Hi"], "range": ["triangle-up", "square"]}, "legend": null},
            "fill": {"field": "reg", "type": "nominal", "scale": {"domain": ["Nose", "Tail"], "range": ["#e8392b", "#3457c2"]}, "legend": null}
          }
        },
        {
          "data": {"name": "notes"},
          "transform": [{"filter": "datum.p == 'D' && datum.k == 'panel'"}],
          "mark": {"type": "text", "fontSize": 28, "fontWeight": "bold", "color": "#222", "align": "left", "baseline": "alphabetic"},
          "encoding": {
            "x": {"field": "e", "type": "quantitative", "scale": {"type": "log", "domain": [0.1, 6], "nice": false}, "axis": null},
            "y": {"field": "f", "type": "quantitative", "scale": {"type": "log", "domain": [1, 10000], "nice": false}, "axis": null},
            "text": {"field": "t"}
          }
        },
        {
          "data": {"name": "notes"},
          "transform": [{"filter": "datum.p == 'D' && datum.k == 'Nose'"}],
          "mark": {"type": "text", "fontSize": 20, "fontWeight": "bold", "color": "#e3402b", "align": "center", "baseline": "middle"},
          "encoding": {
            "x": {"field": "e", "type": "quantitative", "scale": {"type": "log", "domain": [0.1, 6], "nice": false}, "axis": null},
            "y": {"field": "f", "type": "quantitative", "scale": {"type": "log", "domain": [1, 10000], "nice": false}, "axis": null},
            "text": {"field": "t"}
          }
        },
        {
          "data": {"name": "notes"},
          "transform": [{"filter": "datum.p == 'D' && datum.k == 'Tail'"}],
          "mark": {"type": "text", "fontSize": 20, "fontWeight": "bold", "color": "#4a50a8", "align": "center", "baseline": "middle"},
          "encoding": {
            "x": {"field": "e", "type": "quantitative", "scale": {"type": "log", "domain": [0.1, 6], "nice": false}, "axis": null},
            "y": {"field": "f", "type": "quantitative", "scale": {"type": "log", "domain": [1, 10000], "nice": false}, "axis": null},
            "text": {"field": "t"}
          }
        },
        {
          "data": {"name": "notes"},
          "transform": [{"filter": "datum.p == 'D' && datum.k == 'leg'"}],
          "mark": {"type": "text", "fontSize": 19, "fontWeight": "bold", "color": "#333", "align": "left", "baseline": "middle"},
          "encoding": {
            "x": {"field": "e", "type": "quantitative", "scale": {"type": "log", "domain": [0.1, 6], "nice": false}, "axis": null},
            "y": {"field": "f", "type": "quantitative", "scale": {"type": "log", "domain": [1, 10000], "nice": false}, "axis": null},
            "text": {"field": "t"}
          }
        },
        {
          "data": {"name": "notes"},
          "transform": [{"filter": "datum.p == 'D' && datum.k == 'comma'"}],
          "mark": {"type": "text", "fontSize": 14, "fontWeight": "bold", "color": "#333", "align": "center", "baseline": "middle"},
          "encoding": {
            "x": {"field": "e", "type": "quantitative", "scale": {"type": "log", "domain": [0.1, 6], "nice": false}, "axis": null},
            "y": {"field": "f", "type": "quantitative", "scale": {"type": "log", "domain": [1, 10000], "nice": false}, "axis": null},
            "text": {"field": "t"}
          }
        }
      ]
    }
  ]
}
